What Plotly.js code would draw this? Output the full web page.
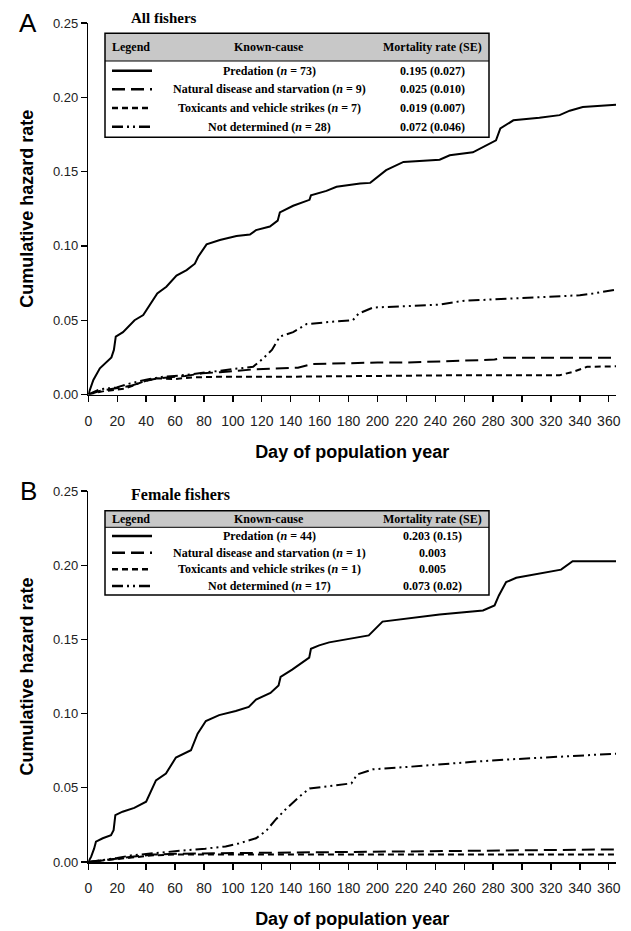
<!DOCTYPE html>
<html>
<head>
<meta charset="utf-8">
<script src="https://cdn.plot.ly/plotly-3.0.1.min.js"></script>
<style>html,body{margin:0;padding:0;background:#fff;}#chart{width:631px;height:931px;}</style>
</head>
<body>
<div id="chart"></div>
<script>
// ---- Panel A: All fishers ----
const aPredDay = [0,3.5,8,12.7,16,17.7,19,24,27.6,32,38,42.6,47.7,54,61,68,73.7,76,81.8,91,102.5,111.8,116,125.6,131,132.5,141.7,153,154,164.7,171.7,188,195,206,218,243,250,266,271,282,285,294,312,326,333,342,365];
const aPredVal = [0,0.0098,0.0176,0.022,0.025,0.030,0.039,0.042,0.0456,0.050,0.0535,0.060,0.068,0.0725,0.080,0.0837,0.088,0.0927,0.101,0.104,0.1066,0.1077,0.1106,0.113,0.117,0.1225,0.127,0.131,0.134,0.137,0.1398,0.142,0.1424,0.151,0.1565,0.158,0.161,0.163,0.1655,0.171,0.179,0.1845,0.1863,0.188,0.191,0.1935,0.195];
const aNatDay = [0,8.5,18,30,42.6,54.7,67,79,91,103,115.6,127.7,145,154.5,176,200,220,249,261.5,281,287,322,365];
const aNatVal = [0,0.0025,0.004,0.006,0.010,0.0115,0.0124,0.0143,0.015,0.016,0.017,0.0174,0.018,0.0205,0.021,0.0215,0.0215,0.0224,0.0226,0.0235,0.0247,0.0247,0.0247];
const aToxDay = [0,11,25.5,37.7,47.4,59.6,71.8,91,140,188.6,213,261.5,326,335,345,365];
const aToxVal = [0,0.0023,0.004,0.0086,0.0109,0.0104,0.0115,0.012,0.012,0.0124,0.0128,0.013,0.013,0.0152,0.0186,0.019];
const aNdDay = [0,8,19.6,29,40,52,63,75,86,98,114,121,127,132.5,141.7,151,160,169,183,187,197,220,243,259,278,301,324,340,349,365];
const aNdVal = [0,0.0035,0.0048,0.0075,0.010,0.012,0.0127,0.014,0.0154,0.0165,0.0187,0.0243,0.030,0.039,0.042,0.0474,0.0483,0.049,0.050,0.0545,0.0585,0.0596,0.0605,0.063,0.064,0.065,0.066,0.0668,0.068,0.0706];

// ---- Panel B: Female fishers ----
const bPredDay = [0,2,4,5.3,10,15.7,17.5,18.7,23.7,31.8,40,43,46.8,53.7,60.6,71,73,75.6,81.3,90.5,102,111,116,126,131.6,133,141,152.8,154,159.7,166.6,178,187,194,203.5,219.7,243,273,281,284,289,296,312,327,335,365];
const bPredVal = [0,0.0036,0.009,0.0137,0.016,0.018,0.0215,0.0316,0.0339,0.0365,0.0406,0.0473,0.055,0.0596,0.0704,0.0753,0.080,0.0865,0.095,0.099,0.1018,0.1045,0.1094,0.1139,0.119,0.1247,0.1296,0.1377,0.1437,0.146,0.148,0.150,0.1516,0.1527,0.162,0.1639,0.1668,0.1695,0.1729,0.1796,0.1886,0.1915,0.1942,0.197,0.2027,0.2027];
const bNatDay = [0,10,20,30,45,60,100,150,180,220,270,300,365];
const bNatVal = [0,0.001,0.002,0.0035,0.005,0.0055,0.006,0.0065,0.007,0.0073,0.008,0.0083,0.0085];
const bToxDay = [0,10,20,30,45,60,365];
const bToxVal = [0,0.0008,0.002,0.003,0.0045,0.005,0.005];
const bNdDay = [0,10,20,30,45,63,81,95,104,116,123,130,137,146,153,167,182,186,197,220,243,266,289,312,335,365];
const bNdVal = [0,0.0012,0.0027,0.0045,0.006,0.0075,0.009,0.0105,0.0125,0.016,0.021,0.029,0.036,0.044,0.0495,0.051,0.053,0.059,0.0625,0.064,0.066,0.0675,0.069,0.0703,0.0715,0.073];

// ---- Legend table texts ----
const causes = ['Predation', 'Natural disease and starvation', 'Toxicants and vehicle strikes', 'Not determined'];
const aN = ['73', '9', '7', '28'];
const bN = ['44', '1', '1', '17'];
const aRates = ['0.195 (0.027)', '0.025 (0.010)', '0.019 (0.007)', '0.072 (0.046)'];
const bRates = ['0.203 (0.15)', '0.003', '0.005', '0.073 (0.02)'];
const headers = ['Legend', 'Known-cause', 'Mortality rate (SE)'];
const xTicks = [0,20,40,60,80,100,120,140,160,180,200,220,240,260,280,300,320,340,360];

const W = 631, H = 931;
const px = x => x / W;
const py = y => 1 - y / H;
const dashes = ['solid', '13px,6px', '6px,4px', '11px,4px,2px,4px,2px,4px'];
const LW = 2;

function tr(x, y, i, xa, ya) {
  return {x: x, y: y, type: 'scatter', mode: 'lines', xaxis: xa, yaxis: ya,
          line: {color: '#000', width: LW, dash: dashes[i]}, showlegend: false, hoverinfo: 'skip'};
}
const data = [
  tr(aPredDay, aPredVal, 0, 'x', 'y'),
  tr(aNatDay, aNatVal, 1, 'x', 'y'),
  tr(aToxDay, aToxVal, 2, 'x', 'y'),
  tr(aNdDay, aNdVal, 3, 'x', 'y'),
  tr(bPredDay, bPredVal, 0, 'x2', 'y2'),
  tr(bNatDay, bNatVal, 1, 'x2', 'y2'),
  tr(bToxDay, bToxVal, 2, 'x2', 'y2'),
  tr(bNdDay, bNdVal, 3, 'x2', 'y2')
];

const tickFont = {family: 'Liberation Sans, Arial, sans-serif', size: 14, color: '#222'};
const yTickFont = {family: 'Liberation Sans, Arial, sans-serif', size: 13, color: '#222'};
const titleFont = {family: 'Liberation Sans, Arial, sans-serif', size: 18, color: '#000', weight: 'bold'};
function xax(anchor, dom) {
  return {domain: dom, range: [0, 365], anchor: anchor, showgrid: false, zeroline: false,
          showline: true, linecolor: '#000', linewidth: 1.5, ticks: 'outside', ticklen: 6, tickwidth: 1.3,
          tickcolor: '#000', tickvals: xTicks, tickfont: tickFont, fixedrange: true, ticklabelstandoff: 7,
          title: {text: 'Day of population year', font: titleFont, standoff: 17}};
}
function yax(anchor, dom) {
  return {domain: dom, range: [0, 0.25], anchor: anchor, showgrid: false, zeroline: false,
          showline: true, linecolor: '#000', linewidth: 1.5, ticks: 'outside', ticklen: 6, tickwidth: 1.3,
          tickcolor: '#000', dtick: 0.05, tick0: 0, tickformat: '.2f', tickfont: yTickFont, fixedrange: true,
          title: {text: 'Cumulative hazard rate', font: titleFont, standoff: 14}};
}
const xDom = [px(88.3), px(616)];

const shapes = [];
const annotations = [];
const serif = 'Liberation Serif, Times New Roman, serif';

function table(top, headerBottom, bottom, headerY, rowYs, nArr, rates, titleText, titleY, titleSize) {
  const L = 105, R = 489;
  shapes.push({type: 'rect', xref: 'paper', yref: 'paper', x0: px(L), x1: px(R), y0: py(headerBottom), y1: py(top),
               fillcolor: '#c8c8c8', line: {width: 0}, layer: 'above'});
  shapes.push({type: 'rect', xref: 'paper', yref: 'paper', x0: px(L), x1: px(R), y0: py(bottom), y1: py(top),
               fillcolor: 'rgba(0,0,0,0)', line: {color: '#000', width: 1.5}, layer: 'above'});
  shapes.push({type: 'line', xref: 'paper', yref: 'paper', x0: px(L), x1: px(R), y0: py(headerBottom), y1: py(headerBottom),
               line: {color: '#000', width: 1}, layer: 'above'});
  const hx = [130.5, 269, 432];
  headers.forEach((h, i) => annotations.push({xref: 'paper', yref: 'paper', x: px(hx[i]), y: py(headerY),
    text: '<b>' + h + '</b>', showarrow: false, xanchor: 'center', yanchor: 'middle',
    font: {family: serif, size: 12, color: '#000'}}));
  rowYs.forEach((ry, i) => {
    shapes.push({type: 'line', xref: 'paper', yref: 'paper', x0: px(112), x1: px(152), y0: py(ry), y1: py(ry),
                 line: {color: '#000', width: 2.5, dash: dashes[i]}, layer: 'above'});
    annotations.push({xref: 'paper', yref: 'paper', x: px(269), y: py(ry),
      text: '<b>' + causes[i] + ' (<i>n</i> = ' + nArr[i] + ')</b>', showarrow: false, xanchor: 'center', yanchor: 'middle',
      font: {family: serif, size: 12, color: '#000'}});
    annotations.push({xref: 'paper', yref: 'paper', x: px(432), y: py(ry),
      text: '<b>' + rates[i] + '</b>', showarrow: false, xanchor: 'center', yanchor: 'middle',
      font: {family: serif, size: 12, color: '#000'}});
  });
  annotations.push({xref: 'paper', yref: 'paper', x: px(129), y: py(titleY), text: '<b>' + titleText + '</b>',
    showarrow: false, xanchor: 'left', yanchor: 'middle', font: {family: serif, size: titleSize, color: '#000'}});
}
table(33.3, 61, 137.3, 47, [70.7, 89.3, 108, 126.7], aN, aRates, 'All fishers', 18, 15);
table(510.7, 527.3, 595, 519, [536, 552.7, 569.3, 586], bN, bRates, 'Female fishers', 494, 16);

annotations.push({xref: 'paper', yref: 'paper', x: px(28), y: py(23), text: 'A', showarrow: false,
  xanchor: 'center', yanchor: 'middle', font: {family: 'Liberation Sans, Arial, sans-serif', size: 26, color: '#000'}});
annotations.push({xref: 'paper', yref: 'paper', x: px(28), y: py(491), text: 'B', showarrow: false,
  xanchor: 'center', yanchor: 'middle', font: {family: 'Liberation Sans, Arial, sans-serif', size: 26, color: '#000'}});

const layout = {
  width: W, height: H, margin: {l: 0, r: 0, t: 0, b: 0},
  paper_bgcolor: '#fff', plot_bgcolor: '#fff', showlegend: false,
  xaxis: xax('y', xDom),
  yaxis: yax('x', [py(394.5), py(23)]),
  xaxis2: xax('y2', xDom),
  yaxis2: yax('x2', [py(862), py(491)]),
  shapes: shapes, annotations: annotations
};
Plotly.newPlot('chart', data, layout, {displayModeBar: false, staticPlot: true});
</script>
</body>
</html>
